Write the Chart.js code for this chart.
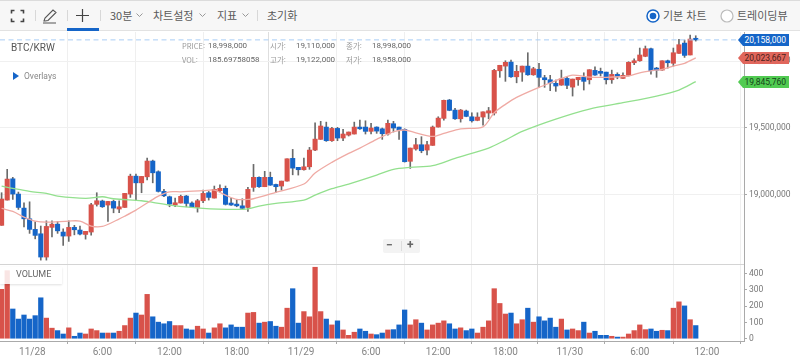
<!DOCTYPE html>
<html lang="ko"><head><meta charset="utf-8">
<style>
html,body{margin:0;padding:0;background:#fff;overflow:hidden}
#wrap{position:relative;width:800px;height:363px;overflow:hidden;font-family:Roboto,"Noto Sans CJK KR",sans-serif}
#wrap>div,#wrap>svg,#wrap>span{position:absolute}
canvas{position:absolute;left:0;top:0}
#bar{left:0;top:0;width:800px;height:31px;background:#f7f7f7;border-top:1px solid #dcdcdc;border-bottom:1px solid #e2e2e2;box-sizing:border-box}
.t{font-size:11px;color:#5a5a5a;white-space:nowrap;line-height:14px;font-family:"Noto Sans CJK KR",Roboto,sans-serif}
.sep{width:1px;height:11px;top:10px;background:#d8d8d8}
.i{font-size:7.5px;color:#999;white-space:nowrap;line-height:10px;font-family:"Noto Sans CJK KR",Roboto,sans-serif}
.v{font-size:8px;color:#666;white-space:nowrap;line-height:10px}
.tag{left:738px;width:51px;height:12px;font-size:8.5px;line-height:12px;text-align:right;padding-right:3px;box-sizing:border-box;clip-path:polygon(0 50%,5px 0,100% 0,100% 100%,5px 100%)}
</style></head><body>
<div id="wrap">
<canvas id="c" width="800" height="363"></canvas>

<div id="bar"></div>
<svg style="left:10px;top:9px" width="15" height="14" fill="none" stroke="#444" stroke-width="1.6"><path d="M1.5 4.5V1.5H4.5M10.5 1.5H13.5V4.5M13.5 9.5V12.5H10.5M4.5 12.5H1.5V9.5"/></svg>
<svg style="left:42px;top:8px" width="17" height="16" fill="none" stroke="#555" stroke-width="1.1"><path d="M2 13L3 10L11 2L14 4.5L6 12.5L3 13ZM1 15H14"/></svg>
<svg style="left:76px;top:9px" width="13" height="13" stroke="#444" stroke-width="1.2"><path d="M6.5 0V13M0 6.5H13"/></svg>
<div style="left:67px;top:28px;width:32px;height:3px;background:#1565c8"></div>
<div class="sep" style="left:35px"></div><div class="sep" style="left:67px"></div><div class="sep" style="left:100px"></div><div class="sep" style="left:257px"></div>
<span class="t" style="left:110px;top:8px">30분</span>
<span class="t" style="left:153px;top:8px">차트설정</span>
<span class="t" style="left:217px;top:8px">지표</span>
<span class="t" style="left:267px;top:8px">초기화</span>
<svg style="left:136px;top:13px" width="7" height="5" fill="none" stroke="#999"><path d="M0.5 0.5L3.5 3.5L6.5 0.5"/></svg>
<svg style="left:199px;top:13px" width="7" height="5" fill="none" stroke="#999"><path d="M0.5 0.5L3.5 3.5L6.5 0.5"/></svg>
<svg style="left:242px;top:13px" width="7" height="5" fill="none" stroke="#999"><path d="M0.5 0.5L3.5 3.5L6.5 0.5"/></svg>
<svg style="left:645px;top:8px" width="16" height="16"><circle cx="8" cy="8" r="6" fill="#fff" stroke="#1565c8" stroke-width="1.5"/><circle cx="8" cy="8" r="3.3" fill="#1565c8"/></svg>
<span class="t" style="left:663px;top:8px">기본 차트</span>
<svg style="left:719px;top:8px" width="16" height="16"><circle cx="8" cy="8" r="6" fill="#fff" stroke="#bbb" stroke-width="1.2"/></svg>
<span class="t" style="left:737px;top:8px">트레이딩뷰</span>

<span style="left:11px;top:41px;font-size:10px;color:#555;line-height:14px">BTC/KRW</span>
<span class="i" style="left:182px;top:41px">PRICE:</span><span class="v" style="left:208px;top:41px">18,998,000</span>
<span class="i" style="left:270px;top:41px">시가:</span><span class="v" style="left:296px;top:41px">19,110,000</span>
<span class="i" style="left:346px;top:41px">종가:</span><span class="v" style="left:372px;top:41px">18,998,000</span>
<span class="i" style="left:182px;top:55px">VOL:</span><span class="v" style="left:208px;top:55px">185.69758058</span>
<span class="i" style="left:270px;top:55px">고가:</span><span class="v" style="left:296px;top:55px">19,122,000</span>
<span class="i" style="left:346px;top:55px">저가:</span><span class="v" style="left:372px;top:55px">18,958,000</span>
<svg style="left:13px;top:72px" width="6" height="8"><path d="M0 0L6 4L0 8Z" fill="#1565c8"/></svg>
<span style="left:24px;top:71px;font-size:8.5px;color:#888;line-height:10px">Overlays</span>

<div style="left:0;top:264px;width:744px;height:1px;background:#d4d4d4"></div>
<div style="left:0;top:267px;width:62px;height:17px;background:rgba(255,255,255,.85);box-shadow:0 1px 2px rgba(0,0,0,.12)"></div>
<span style="left:16px;top:269px;font-size:9px;color:#666;line-height:11px">VOLUME</span>

<div style="left:383px;top:239px;width:37px;height:14px;background:#f3f3f3;border-radius:2px"></div>
<div style="left:401px;top:241px;width:1px;height:10px;background:#ddd"></div>
<span style="left:386px;top:238px;font-size:12px;font-weight:700;color:#666;line-height:14px">−</span>
<span style="left:407px;top:238px;font-size:12px;font-weight:700;color:#666;line-height:14px">+</span>

<div class="tag" style="top:34px;background:#1565c8;color:#fff">20,158,000</div>
<div class="tag" style="top:52px;background:#e0665c;color:#4a1f1b">20,023,667</div>
<div class="tag" style="top:76px;background:#52cb52;color:#14451a">19,845,760</div>
</div>

<script src="https://cdn.jsdelivr.net/npm/chart.js@4"></script>
<script>
// Prices in thousand KRW, one entry per 30-minute candle
const opens=[18771,18960,19119,19005,18900,18820,18741,18708,18534,18756,
18780,18721,18691,18756,18736,18703,18721,18928,18953,18923,
18950,18893,18905,19005,19139,19089,19134,19252,19172,19025,
18985,18923,18938,18990,18938,18905,18955,19015,18975,19030,
19048,18938,18930,18917,18905,19055,19130,19060,19130,19077,
19065,19102,19272,19205,19187,19209,19334,19414,19506,19404,
19496,19424,19446,19454,19506,19506,19474,19506,19493,19454,
19531,19506,19489,19250,19342,19374,19334,19369,19506,19571,
19708,19633,19568,19626,19583,19556,19581,19611,19611,19927,
19962,19992,19882,19917,19962,19897,19938,19875,19860,19833,
19820,19870,19805,19860,19878,19860,19930,19923,19917,19860,
19900,19870,19893,19987,20002,20035,20092,19947,19932,20002,
19983,20057,20134,20045,20170];
const highs=[19015,19190,19130,19020,18940,18947,18798,18766,18805,18805,
18801,18745,18805,18771,18766,18726,18935,19015,18960,18950,
18960,18955,19010,19154,19154,19137,19274,19259,19179,19040,
18990,18975,18997,18995,18947,18965,19035,19025,19065,19074,
19065,18973,18960,18970,19055,19227,19134,19175,19169,19080,
19102,19269,19339,19205,19274,19354,19538,19549,19543,19504,
19504,19489,19469,19543,19558,19553,19534,19508,19499,19558,
19549,19506,19493,19349,19422,19434,19399,19514,19583,19708,
19713,19646,19638,19633,19613,19613,19620,19653,19938,19968,
20002,20007,19968,19962,20062,19953,19983,19893,19893,19858,
19932,19878,19865,19878,19912,19935,19957,19947,19917,19932,
19912,19912,19995,20017,20097,20112,20097,19953,20002,20007,
20097,20162,20157,20194,20189];
const lows=[18771,18960,18965,18890,18760,18711,18670,18511,18511,18685,
18711,18621,18651,18700,18700,18668,18698,18915,18905,18801,
18865,18865,18905,18980,18955,19015,19110,19089,19020,18985,
18910,18910,18938,18910,18908,18870,18940,18960,18975,19020,
18923,18920,18910,18890,18875,19025,19055,19060,19070,19015,
19035,19102,19149,19147,19184,19190,19329,19414,19399,19399,
19404,19404,19439,19454,19489,19454,19454,19459,19414,19446,
19469,19414,19244,19197,19334,19314,19297,19369,19506,19558,
19628,19564,19543,19583,19543,19553,19521,19568,19596,19878,
19848,19878,19837,19848,19893,19893,19803,19803,19778,19773,
19818,19793,19738,19818,19783,19828,19893,19888,19828,19833,
19867,19870,19888,19972,19998,20032,19902,19878,19932,19947,
19962,20057,20027,20045,20149];
const closes=[18968,19117,19005,18905,18820,18741,18696,18534,18763,18780,
18730,18691,18756,18738,18706,18726,18925,18955,18910,18950,
18900,18910,19010,19139,19089,19137,19252,19164,19025,18992,
18930,18940,18988,18935,18908,18955,19010,18980,19040,19048,
18928,18923,18917,18898,19040,19130,19060,19130,19072,19060,
19102,19269,19199,19187,19209,19334,19416,19514,19404,19496,
19424,19454,19469,19506,19493,19474,19499,19476,19456,19534,
19499,19484,19247,19349,19374,19329,19374,19506,19573,19706,
19631,19568,19633,19586,19553,19581,19620,19628,19930,19968,
19990,19882,19923,19962,19897,19942,19878,19860,19835,19813,
19867,19818,19865,19878,19848,19935,19895,19908,19860,19900,
19882,19893,19990,20002,20045,20092,19927,19932,20002,19987,
20062,20122,20042,20164,20158];
const volumes=[304,419,183,121,146,121,142,252,127,65,
50,29,67,15,35,29,60,50,35,35,
35,46,81,127,158,146,273,135,102,92,
106,81,81,60,54,77,60,35,67,92,
67,85,71,71,158,162,96,102,106,77,
71,188,308,96,167,135,440,167,121,85,
110,54,21,40,60,46,29,25,35,54,
56,85,177,85,117,96,54,85,96,110,
92,60,67,50,60,35,71,110,308,217,
152,158,92,117,188,102,135,110,127,71,
121,54,60,50,102,35,46,21,21,15,
10,10,29,50,85,56,60,46,52,50,
188,227,202,117,81];
// Moving averages at these candle indices
const redMaIndex=[0,2,4,6,8,12,14,16,18,20,22,24,26,28,30,32,36,38,40,42,44,45,49,54,56,59,62,64,67,70,72,74,77,79,82,86,88,90,92,96,98,100,102,105,108,112,114,116,118,120,122,124];
const redMa=[18898,18875,18833,18803,18795,18803,18803,18766,18763,18798,18840,18885,18938,18990,19022,19022,19030,19035,18997,18965,18965,18970,19018,19080,19162,19242,19309,19349,19414,19471,19484,19463,19436,19459,19493,19508,19613,19676,19728,19803,19837,19870,19895,19880,19878,19888,19912,19927,19938,19962,19983,20024];
const greenMaIndex=[0,2,5,8,10,15,18,20,25,27,30,36,42,44,46,49,54,56,59,62,67,70,73,77,81,87,90,93,99,105,111,117,121,124];
const greenMa=[19065,19048,19025,19010,18990,18973,18985,18970,18955,18943,18923,18898,18890,18895,18915,18935,18960,18997,19045,19080,19147,19190,19205,19217,19272,19349,19409,19474,19566,19641,19688,19738,19783,19846];
const lastPrice=20158;
const dateTicks=[5.5,18,30,42,53.5,66,78,90,101.5,114,126];
const dateLabels=['11/28','6:00','12:00','18:00','11/29','6:00','12:00','18:00','11/30','6:00','12:00'];
const priceTicks=[19000,19500,20000];
const volumeTicks=[0,100,200,300,400];

const RED='#d8524a', BLUE='#1565c8';
const up=closes.map((c,i)=>c>=opens[i]);
const colours=up.map(u=>u?RED:BLUE);
const xMin=-0.286, xMax=132.62;
const fmt=v=>(v*1000).toLocaleString('en-US');
const dayTick=new Set([5.5,53.5,101.5]);

new Chart(document.getElementById('c'),{
  type:'bar',
  data:{datasets:[
    {type:'line',label:'MA long',data:redMaIndex.map((x,i)=>({x,y:redMa[i]})),borderColor:'#efaaa4',borderWidth:1.3,tension:0.3,pointRadius:0,yAxisID:'y',order:0},
    {type:'line',label:'MA longer',data:greenMaIndex.map((x,i)=>({x,y:greenMa[i]})),borderColor:'#93e08e',borderWidth:1.3,tension:0.3,pointRadius:0,yAxisID:'y',order:0},
    {type:'line',label:'Last',data:[{x:xMin,y:lastPrice},{x:xMax,y:lastPrice}],borderColor:'#a9cdf5',borderWidth:1,borderDash:[5,3.5],pointRadius:0,yAxisID:'y',order:1},
    {label:'Body',data:opens.map((o,i)=>({x:i,y:[o,closes[i]]})),backgroundColor:colours,barThickness:4.4,grouped:false,yAxisID:'y',order:2},
    {label:'Wick',data:highs.map((h,i)=>({x:i,y:[lows[i],h]})),backgroundColor:'#6a6a6a',barThickness:1,grouped:false,yAxisID:'y',order:3},
    {label:'Volume',data:volumes.map((v,i)=>({x:i,y:v})),backgroundColor:colours,barThickness:4.6,grouped:false,yAxisID:'vol',order:4}
  ]},
  options:{
    responsive:false,animation:false,
    layout:{padding:{top:32,left:0,right:0,bottom:0}},
    plugins:{legend:{display:false},tooltip:{enabled:false}},
    scales:{
      x:{type:'linear',min:xMin,max:xMax,offset:false,
        afterBuildTicks:s=>{s.ticks=dateTicks.map(value=>({value}));},
        afterFit:s=>{s.height=22;},
        border:{color:'#aaaaaa'},
        grid:{color:c=>dayTick.has(c.tick&&c.tick.value)?'#dedede':'#efefef',tickLength:3,tickColor:'#aaaaaa'},
        ticks:{autoSkip:false,maxRotation:0,padding:2,color:'#858585',font:{family:'Roboto',size:10},
          callback:v=>dateLabels[dateTicks.indexOf(v)]}
      },
      y:{position:'right',stack:'p',stackWeight:232,min:18482,max:20217,
        afterBuildTicks:s=>{s.ticks=priceTicks.map(value=>({value}));},
        afterFit:s=>{s.width=56;},
        border:{color:'#aaaaaa'},
        grid:{color:'#f0f0f0',tickLength:3,tickColor:'#aaaaaa'},
        ticks:{autoSkip:false,padding:2,color:'#777777',font:{family:'Roboto',size:8.5},callback:v=>fmt(v)}
      },
      vol:{position:'right',stack:'p',stackWeight:77,min:-14,max:460,
        afterBuildTicks:s=>{s.ticks=volumeTicks.map(value=>({value}));},
        afterFit:s=>{s.width=56;},
        border:{color:'#aaaaaa'},
        grid:{drawOnChartArea:false,tickLength:3,tickColor:'#aaaaaa'},
        ticks:{autoSkip:false,padding:2,color:'#777777',font:{family:'Roboto',size:8.5}}
      }
    }
  }
});
</script>
</body></html>
